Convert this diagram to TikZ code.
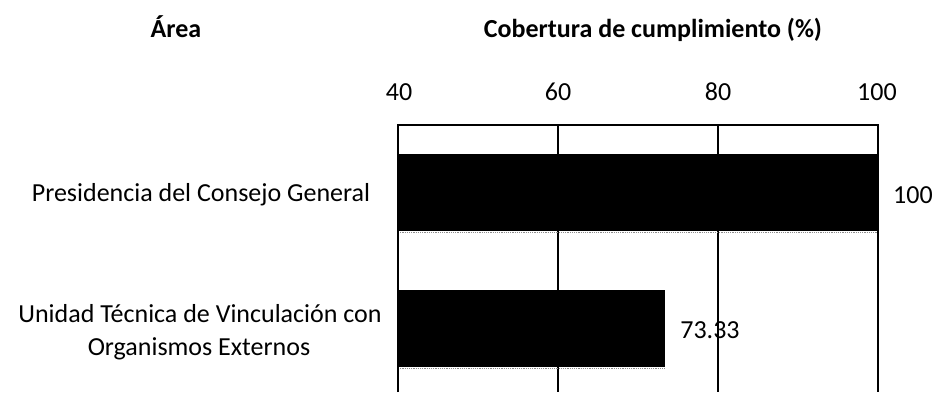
\documentclass[tikz,border=0pt]{standalone}
\usepackage{fontspec}
\setmainfont{Carlito}
\begin{document}
\begin{tikzpicture}[x=1pt,y=-1pt,
  txt/.style={font=\fontsize{26}{33}\selectfont, inner sep=0pt, anchor=base},
  ttl/.style={font=\bfseries\fontsize{26}{31}\selectfont, inner sep=0pt, anchor=base},
  frameline/.style={line width=1.8pt, black},
  gridline/.style={line width=1.4pt, black},
  barfill/.style={fill=black},
  baredge/.style={line width=1.2pt, black!45, densely dotted}]
\useasboundingbox (0,0) rectangle (935,392);
% titles
\node[ttl] (tarea) at (176,37) {Área};
\node[ttl] (tcob) at (653,37) {Cobertura de cumplimiento (\%)};
% tick labels
\node[txt] (t40) at (399,100) {40};
\node[txt] (t60) at (558,100) {60};
\node[txt] (t80) at (718,100) {80};
\node[txt] (t100) at (877,100) {100};
% frame and grid
\coordinate (fl) at (398,392);
\coordinate (ftl) at (398,125);
\coordinate (ftr) at (878,125);
\coordinate (fr) at (878,392);
\coordinate (g60t) at (558,125);
\coordinate (g60b) at (558,392);
\coordinate (g80t) at (718,125);
\coordinate (g80b) at (718,392);
\draw[gridline] (g60t) -- (g60b);
\draw[gridline] (g80t) -- (g80b);
% bars
\fill[barfill] (398,154) rectangle (878,231);
\fill[barfill] (398,290) rectangle (664.6,367);
\draw[baredge] (398,232.5) -- (878,232.5);
\draw[baredge] (398,368.5) -- (664.6,368.5);
\draw[frameline] (fl) -- (ftl) -- (ftr) -- (fr);
% category labels
\node[txt] (c1) at (201,201) {Presidencia del Consejo General};
\node[txt] (c2a) at (200,322) {Unidad Técnica de Vinculación con};
\node[txt] (c2b) at (199,355) {Organismos Externos};
% value labels
\node[txt] (v1) at (913,203) {100};
\node[txt] (v2) at (710,338) {73.33};
\end{tikzpicture}
\end{document}
